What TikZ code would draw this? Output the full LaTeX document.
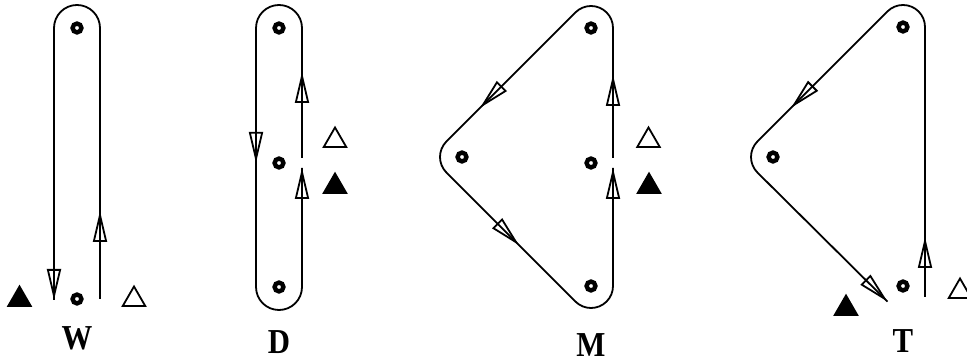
\documentclass[tikz,border=0pt]{standalone}
\usepackage{fontspec}
\setmainfont{Liberation Serif}
\usetikzlibrary{arrows.meta,calc,decorations.markings,shapes.geometric}

\tikzset{
  oarr/.tip={Triangle[open,length=15.5pt,width=7pt]},
  flow/.style={line width=0.9pt},
  arr at/.style={postaction={decorate,decoration={markings,mark=at position #1 with {\arrow{oarr}}}}},
  dot/.style={circle,draw,line width=2.2pt,minimum size=4.4pt,inner sep=0pt},
  tri/.style={regular polygon,regular polygon sides=3,draw,line width=0.9pt,
    minimum size=13pt,inner sep=0pt,outer sep=0pt,anchor=south},
  lbl/.style={font=\bfseries\fontsize{17.5}{20}\selectfont,xscale=0.88}
}

\begin{document}
\begin{tikzpicture}[x=0.5pt,y=0.5pt]
  \useasboundingbox (0,0) rectangle (967,-362);
  % W
  \node[dot] (w1) at (77,-28) {};
  \node[dot] (w2) at (77,-299) {};
  \draw[flow,arr at=44pt,arr at=1] ($(w2)+(23,0)$) -- ($(w1)+(23,0)$) arc (0:180:23) -- ($(w2)+(-23,-1)$);
  \node[tri,fill] (wf) at (19.5,-306) {};
  \node[tri] (wh) at (134,-306) {};
  \node[lbl] (lw) at (77,-338) {W};
  % D
  \node[dot] (d1) at (279,-28) {};
  \node[dot] (d2) at (279,-163) {};
  \node[dot] (d3) at (279,-287) {};
  \draw[flow,arr at=43pt,arr at=168.6pt,arr at=1] ($(d2)+(23,5)$) -- ($(d1)+(23,0)$) arc (0:180:23)
    -- ($(d3)+(-23,0)$) arc (180:360:23) -- ($(d2)+(23,-5)$);
  \node[tri] (dh) at (335,-147) {};
  \node[tri,fill] (df) at (335,-193) {};
  \node[lbl] (ld) at (279,-342) {D};
  % M
  \node[dot] (m1) at (591,-28) {};
  \node[dot] (m2) at (462,-157) {};
  \node[dot] (m3) at (591,-163) {};
  \node[dot] (m4) at (591,-286) {};
  \draw[flow,arr at=41.5pt,arr at=158.4pt,arr at=250.7pt,arr at=1] ($(m3)+(22,5)$) -- ($(m1)+(22,0)$)
    arc (0:135:22) -- ($(m2)+(135:22)$) arc (135:225:22) -- ($(m4)+(225:22)$)
    arc (225:360:22) -- ($(m3)+(22,-5)$);
  \node[tri] (mh) at (648.5,-147) {};
  \node[tri,fill] (mf) at (649,-193) {};
  \node[lbl] (lm) at (591,-345) {M};
  % T
  \node[dot] (t1) at (903,-27) {};
  \node[dot] (t2) at (773,-157) {};
  \node[dot] (t3) at (903,-286) {};
  \draw[flow,arr at=30pt,arr at=229pt,arr at=1] ($(t3)+(22,-11)$) -- ($(t1)+(22,0)$)
    arc (0:135:22) -- ($(t2)+(135:22)$) arc (135:225:22) -- ($(t3)+(225:22)$);
  \node[tri,fill] (tf) at (846,-315) {};
  \node[tri] (th) at (960,-298) {};
  \node[lbl] (lt) at (903,-341) {T};
\end{tikzpicture}
\end{document}
